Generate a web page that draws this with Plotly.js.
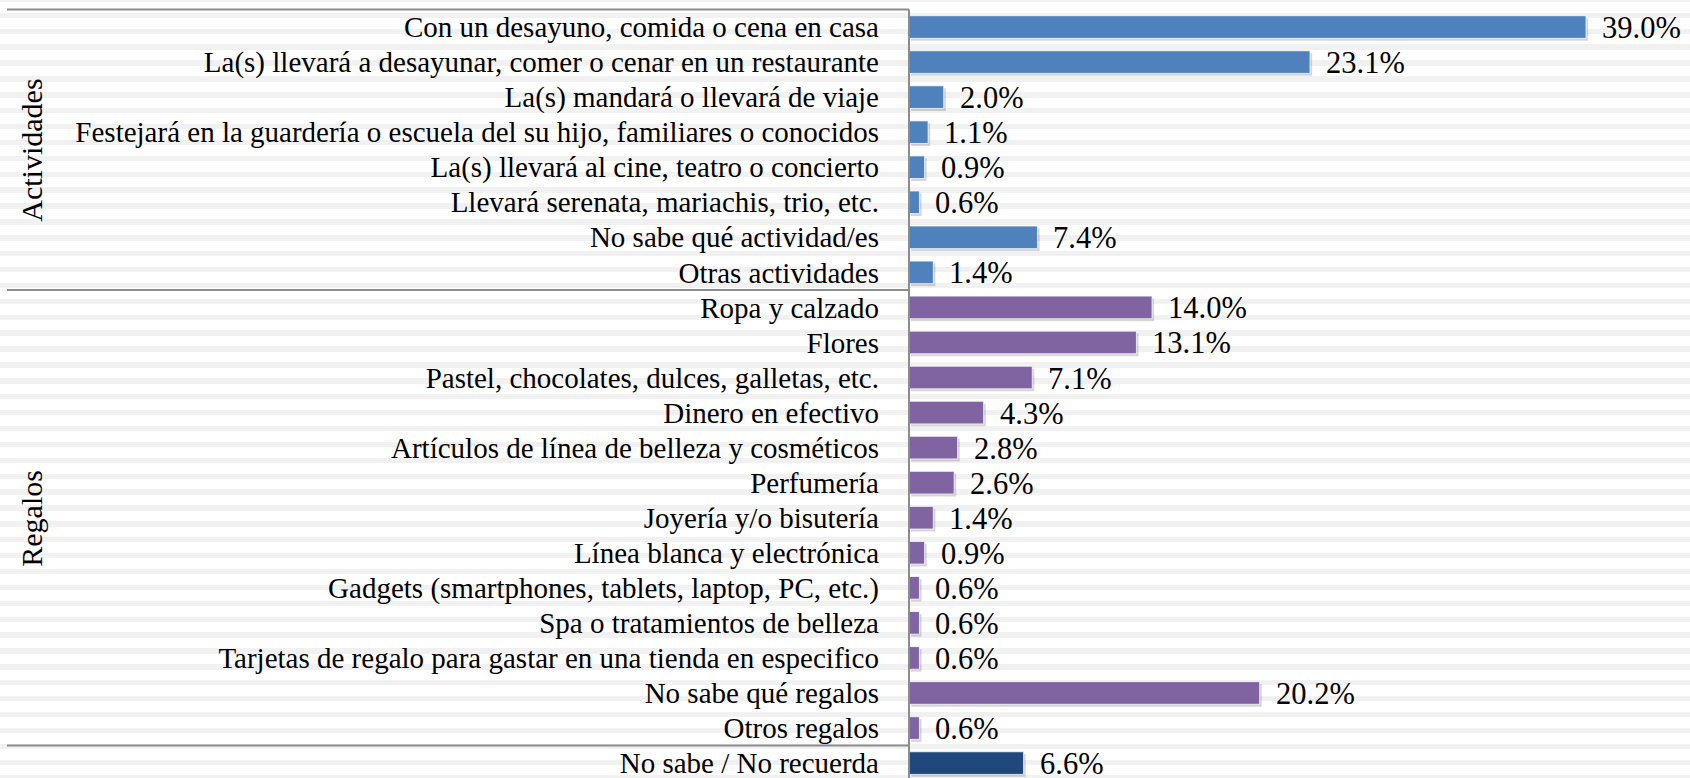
<!DOCTYPE html>
<html><head><meta charset="utf-8">
<script src="https://cdn.plot.ly/plotly-3.0.1.min.js"></script>
<style>
html,body{margin:0;padding:0;background:#fff;}
#chart{width:1690px;height:778px;
background:repeating-linear-gradient(to bottom,#f1f1f1 -3.19px,#f1f1f1 2.2px,#ffffff 2.2px,#ffffff 12.7px);}
</style></head><body><div id="chart"></div>
<script>
// ---- data ----
const actividadesLabels = [
  'Con un desayuno, comida o cena en casa',
  'La(s) llevará a desayunar, comer o cenar en un restaurante',
  'La(s) mandará o llevará de viaje',
  'Festejará en la guardería o escuela del su hijo, familiares o conocidos',
  'La(s) llevará al cine, teatro o concierto',
  'Llevará serenata, mariachis, trio, etc.',
  'No sabe qué actividad/es',
  'Otras actividades'
];
const actividadesValues = [39.0, 23.1, 2.0, 1.1, 0.9, 0.6, 7.4, 1.4];

const regalosLabels = [
  'Ropa y calzado',
  'Flores',
  'Pastel, chocolates, dulces, galletas, etc.',
  'Dinero en efectivo',
  'Artículos de línea de belleza y cosméticos',
  'Perfumería',
  'Joyería y/o bisutería',
  'Línea blanca y electrónica',
  'Gadgets (smartphones, tablets, laptop, PC, etc.)',
  'Spa o tratamientos de belleza',
  'Tarjetas de regalo para gastar en una tienda en especifico',
  'No sabe qué regalos',
  'Otros regalos'
];
const regalosValues = [14.0, 13.1, 7.1, 4.3, 2.8, 2.6, 1.4, 0.9, 0.6, 0.6, 0.6, 20.2, 0.6];

const otrosLabels = ['No sabe / No recuerda'];
const otrosValues = [6.6];

const groupNames = ['Actividades', 'Regalos', ''];
const groupColors = ['#4f81bd', '#8064a2', '#1f497d'];

// ---- layout constants (pixels) ----
const W = 1690, H = 778;
const ZERO_PX = 909;      // pixel of x = 0
const PX_PER_UNIT = 17.36;
const PLOT_L = 900;
const TOP_PX = 9.5;       // top edge of first row
const ROW_H = 35.05;
const LINE_LEFT_PX = 7;
const GROUP_LABEL_PX = 32;

const groups = [
  {name: groupNames[0], labels: actividadesLabels, values: actividadesValues, color: groupColors[0]},
  {name: groupNames[1], labels: regalosLabels, values: regalosValues, color: groupColors[1]},
  {name: groupNames[2], labels: otrosLabels, values: otrosValues, color: groupColors[2]}
];

const allLabels = [].concat(...groups.map(g => g.labels));
const fontFamily = 'Liberation Serif, Times New Roman, serif';

const traces = [];
const annotations = [];
const shapes = [];
const paperX = px => (px - PLOT_L) / (W - PLOT_L);

let start = 0;
groups.forEach(g => {
  // shadow
  traces.push({
    type: 'bar', orientation: 'h', y: g.labels, x: g.values,
    base: 0.12, width: 0.645, offset: -0.3225 + 0.07,
    marker: {color: 'rgba(0,0,0,0.16)', line: {width: 0}},
    hoverinfo: 'skip', showlegend: false
  });
  traces.push({
    type: 'bar', orientation: 'h', y: g.labels, x: g.values,
    width: 0.645, offset: -0.3225,
    marker: {color: g.color, line: {color: 'rgba(255,255,255,0.75)', width: 1}},
    showlegend: false
  });
  g.labels.forEach((lab, i) => {
    annotations.push({
      x: g.values[i], y: lab, xref: 'x', yref: 'y',
      text: g.values[i].toFixed(1) + '%', showarrow: false,
      xanchor: 'left', yanchor: 'middle', xshift: 14, yshift: -1,
      font: {family: fontFamily, size: 30.5, color: '#000'}
    });
  });
  if (g.name) {
    annotations.push({
      x: paperX(GROUP_LABEL_PX), xref: 'paper',
      y: start + (g.labels.length - 1) / 2, yref: 'y',
      text: g.name, textangle: -90, showarrow: false,
      xanchor: 'center', yanchor: 'middle',
      font: {family: fontFamily, size: 30, color: '#000'}
    });
  }
  // separator line at top of group
  shapes.push({
    type: 'line', xref: 'paper', yref: 'y',
    x0: paperX(LINE_LEFT_PX), x1: paperX(ZERO_PX),
    y0: start - 0.5, y1: start - 0.5,
    line: {color: '#8c8c8c', width: 2}
  });
  start += g.labels.length;
});

// vertical axis line
shapes.push({
  type: 'line', xref: 'x', yref: 'y', x0: 0, x1: 0,
  y0: -0.5, y1: allLabels.length + 1,
  line: {color: '#8c8c8c', width: 2}
});

const layout = {
  width: W, height: H,
  margin: {l: PLOT_L, r: 0, t: 0, b: 0, pad: 0},
  paper_bgcolor: 'rgba(0,0,0,0)', plot_bgcolor: 'rgba(0,0,0,0)',
  barmode: 'overlay',
  showlegend: false,
  xaxis: {
    range: [(PLOT_L - ZERO_PX) / PX_PER_UNIT, (W - ZERO_PX) / PX_PER_UNIT],
    showgrid: false, zeroline: false, showticklabels: false, showline: false, fixedrange: true
  },
  yaxis: {
    type: 'category', categoryorder: 'array', categoryarray: allLabels,
    range: [-0.5 + (H - TOP_PX) / ROW_H, -0.5 - TOP_PX / ROW_H],
    showgrid: false, zeroline: false, showline: false, ticks: '',
    ticklabelstandoff: 20,
    tickfont: {family: fontFamily, size: 29, color: '#000'},
    automargin: false, fixedrange: true
  },
  annotations: annotations,
  shapes: shapes
};

Plotly.newPlot('chart', traces, layout, {displayModeBar: false, staticPlot: true});
</script></body></html>
